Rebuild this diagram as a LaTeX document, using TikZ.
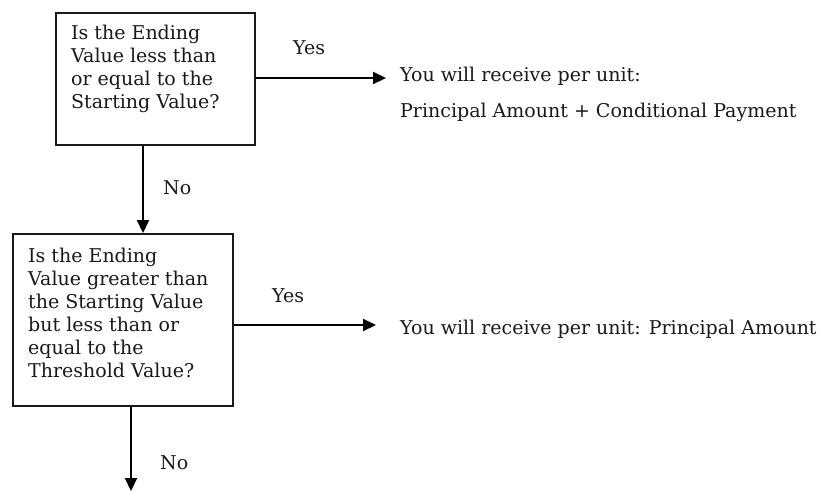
\documentclass[tikz,border=0pt]{standalone}
\usepackage{fontspec}
\setmainfont{DejaVu Serif}
\usetikzlibrary{arrows.meta}
\tikzset{
  qbox/.style={draw=black!90, line width=1.8pt, rectangle, inner sep=0pt},
  txt/.style={inner sep=0pt, align=left, font=\fontsize{19}{23}\selectfont, text=black!90},
  conn/.style={draw=black, line width=2pt, -{Triangle[length=13pt,width=12pt]}},
  lab/.style={inner sep=0pt, font=\fontsize{19}{23}\selectfont, text=black!90}
}
\begin{document}
\begin{tikzpicture}[x=1pt,y=-1pt]
\useasboundingbox (0,0) rectangle (822,491);
% boxes
\node[qbox, minimum width=199pt, minimum height=132pt, anchor=north west] (b1) at (55,12) {};
\node[qbox, minimum width=220pt, minimum height=172pt, anchor=north west] (b2) at (12,233) {};
% box texts
\node[txt, anchor=north west] (t1) at (71,25) {Is the Ending\\Value less than\\or equal to the\\Starting Value?};
\node[txt, anchor=north west] (t2) at (28,248) {Is the Ending\\Value greater than\\the Starting Value\\but less than or\\equal to the\\Threshold Value?};
% outcomes
\node[lab, anchor=base west] (o1) at (400,81) {You will receive per unit:};
\node[lab, anchor=base west] (o1b) at (400,117) {Principal Amount + Conditional Payment};
\node[lab, anchor=base west] (o2) at (400,334) {You will receive per unit: Principal Amount};
% labels
\node[lab, anchor=base west] (y1) at (293,54) {Yes};
\node[lab, anchor=base west] (n1) at (163,194) {No};
\node[lab, anchor=base west] (y2) at (272,302) {Yes};
\node[lab, anchor=base west] (n2) at (160,469) {No};
% connectors
\coordinate (e1) at (386,78);
\coordinate (e2) at (376,325);
\coordinate (e3) at (131,491);
\draw[conn] (b1.east |- e1) -- (e1);
\draw[conn] (b1.south -| 143,0) -- (b2.north -| 143,0);
\draw[conn] (b2.east |- e2) -- (e2);
\draw[conn] (b2.south -| e3) -- (e3);
\end{tikzpicture}
\end{document}
